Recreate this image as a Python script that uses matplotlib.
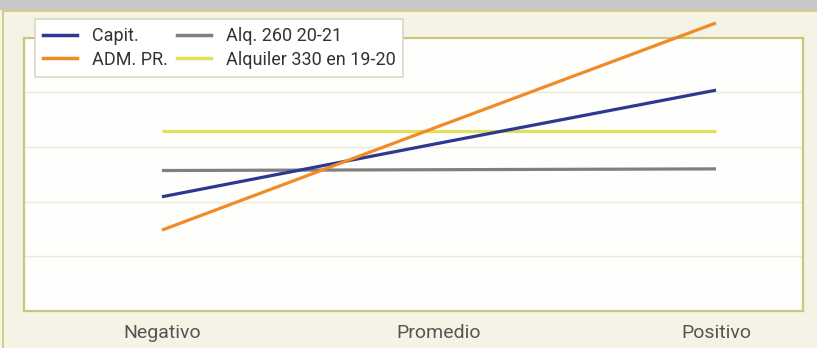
import matplotlib
matplotlib.use("Agg")
import matplotlib.pyplot as plt
from matplotlib.lines import Line2D
from matplotlib.patches import Rectangle

# Scenario categories and series values
categories = ["Negativo", "Promedio", "Positivo"]
series_names = ["Capit.", "ADM. PR.", "Alq. 260 20-21", "Alquiler 330 en 19-20"]
capit = [2.09, 3.07, 4.04]
adm_pr = [1.48, 3.38, 5.27]
alq_260 = [2.57, 2.585, 2.60]
alq_330 = [3.29, 3.29, 3.29]

colors = {
    "Capit.": "#2b3990",
    "ADM. PR.": "#f28a25",
    "Alq. 260 20-21": "#7f7f7f",
    "Alquiler 330 en 19-20": "#e2df5c",
}

plt.rcParams["font.family"] = ["Roboto", "DejaVu Sans"]

W, H = 817, 348
fig = plt.figure(figsize=(W / 100, H / 100), dpi=100)
fig.patch.set_facecolor("#f4f3e5")

# header strip and outer panel border
fig.add_artist(Rectangle((0, 1 - 10 / H), 1, 10 / H, transform=fig.transFigure,
                         facecolor="#c8c8c8", edgecolor="none", zorder=0))
fig.add_artist(Line2D([3 / W, 1], [1 - 10.5 / H] * 2, transform=fig.transFigure,
                      color="#cfcd7e", lw=1.3))
fig.add_artist(Line2D([3.5 / W] * 2, [0, 1 - 10.5 / H], transform=fig.transFigure,
                      color="#cfcd7e", lw=1.3))

left, right, top, bottom = 24, 803, 37.7, 311
ax = fig.add_axes([left / W, 1 - bottom / H, (right - left) / W, (bottom - top) / H])
ax.set_facecolor("#fefefc")

x = list(range(len(categories)))
series = [("Alq. 260 20-21", alq_260), ("Alquiler 330 en 19-20", alq_330),
          ("Capit.", capit), ("ADM. PR.", adm_pr)]
for name, vals in series:
    ax.plot(x, vals, color=colors[name], lw=2.3, solid_capstyle="butt",
            clip_on=False, zorder=3)

ax.set_xlim(-0.498, 2.314)
ax.set_ylim(0, 5)
ax.set_yticks([1, 2, 3, 4])
ax.yaxis.grid(True, color="#ecebd6", lw=1)
ax.tick_params(axis="y", left=False, labelleft=False)
ax.set_xticks(x)
ax.set_xticklabels(categories, fontsize=14, color="#555555")
ax.tick_params(axis="x", bottom=False, pad=6)
for s in ax.spines.values():
    s.set_color("#c8c77a")
    s.set_linewidth(1.6)

handles = [Line2D([], [], color=colors[n], lw=2.5) for n in series_names]
leg = fig.legend(handles, series_names, ncol=2, loc="upper left",
                 bbox_to_anchor=(35 / W, 1 - 19 / H), borderaxespad=0,
                 fontsize=13, frameon=True, fancybox=False,
                 handlelength=1.9, handletextpad=0.8, columnspacing=0.5,
                 labelspacing=0.3, borderpad=0.45)
leg.get_frame().set_edgecolor("#d9d8c2")
leg.get_frame().set_facecolor("#ffffff")
leg.get_frame().set_alpha(1)
leg.get_frame().set_linewidth(1.2)
for t in leg.get_texts():
    t.set_color("#333333")

fig.savefig("out.png", dpi=100, facecolor=fig.get_facecolor())
